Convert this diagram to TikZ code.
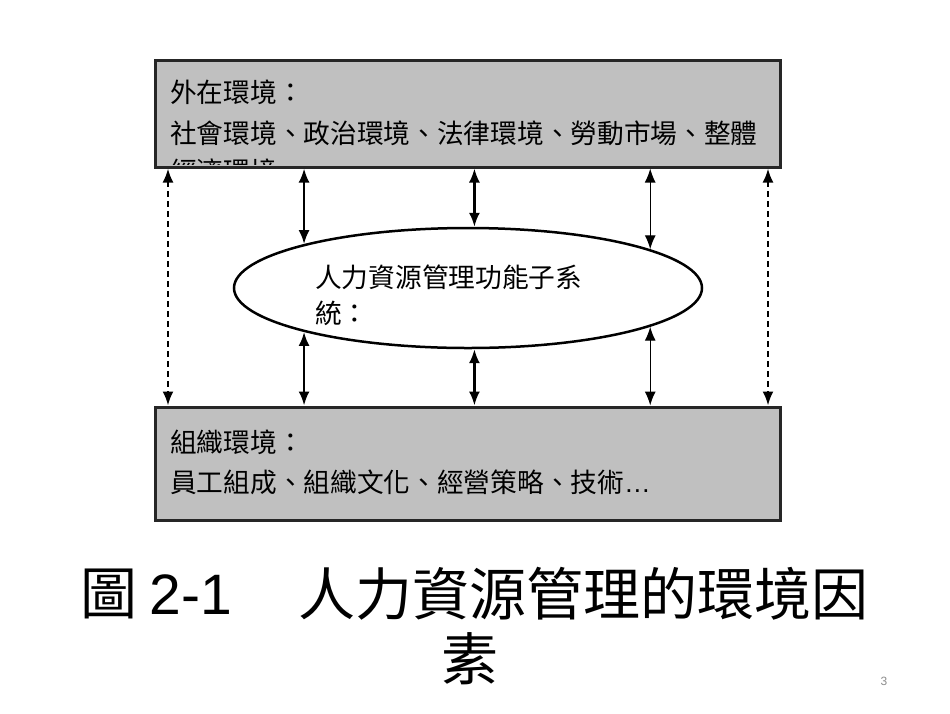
\documentclass[tikz,border=0pt]{standalone}
\usepackage{fontspec}
\setmainfont{Noto Sans CJK TC}
\newfontfamily\lat{Liberation Sans}
\usetikzlibrary{arrows.meta,shapes.geometric}
\definecolor{boxgray}{HTML}{C0C0C0}
\begin{document}
\begin{tikzpicture}[x=1pt,y=-1pt,
  envbox/.style={draw=black!85,line width=3pt,fill=boxgray,inner sep=0},
  txt/.style={anchor=west,inner sep=0,font=\fontsize{26.7}{30}\selectfont},
  arr/.style={{Latex[length=14pt,width=11pt]}-{Latex[length=14pt,width=11pt]},line width=2.3pt},
  thinarr/.style={arr,line width=1.3pt},
  dasharr/.style={arr,dash pattern=on 6pt off 4pt},
  title/.style={inner sep=0,font=\fontsize{57}{60}\selectfont}]
\useasboundingbox (0,0) rectangle (950,713);
% boxes
\node[envbox,minimum width=625pt,minimum height=107pt] (top) at (467.5,113.5) {};
\node[envbox,minimum width=625pt,minimum height=113pt] (bot) at (467.5,463.5) {};
% ellipse
\node[ellipse,draw=black,line width=2.5pt,fill=white,minimum width=468pt,minimum height=120pt,inner sep=0] (ell) at (468,288) {};
% texts in top box
\node[txt] (t1) at (170,92) {外在環境：};
\node[txt] (t2) at (170,133) {社會環境、政治環境、法律環境、勞動市場、整體};
\begin{scope}
  \clip (160,62) rectangle (775,164.5);
  \node[txt] (t3) at (170,171) {經濟環境};
\end{scope}
% ellipse text
\node[txt] (e1) at (315,277) {人力資源管理功能子系};
\node[txt] (e2) at (315,313) {統：};
% bottom box text
\node[txt] (b1) at (170,442) {組織環境：};
\node[txt] (b2) at (170,482) {員工組成、組織文化、經營策略、技術{\lat …}};
% arrows
\coordinate (dl) at (168,0);
\coordinate (dr) at (768,0);
\draw[dasharr] (top.south -| dl) -- (bot.north -| dl);
\draw[dasharr] (top.south -| dr) -- (bot.north -| dr);
\draw[arr] (ell.165.9 |- top.south) -- (ell.165.9);
\draw[arr] (ell.84 |- top.south) -- (ell.84);
\draw[thinarr] (ell.12.2 |- top.south) -- (ell.12.2);
\draw[arr] (ell.-165.9) -- (ell.-165.9 |- bot.north);
\draw[arr] (ell.-84) -- (ell.-84 |- bot.north);
\draw[thinarr] (ell.-12.2) -- (ell.-12.2 |- bot.north);
% title
\node[title,anchor=west] (ti1) at (80,594) {圖 {\lat 2-1}};
\node[title,anchor=west] (ti2) at (298,594) {人力資源管理的環境因};
\node[title] (ti3) at (470,659) {素};
\node[inner sep=0,text=black!45,font=\lat\fontsize{12}{12}\selectfont] (pg) at (884,681) {3};
\end{tikzpicture}
\end{document}
